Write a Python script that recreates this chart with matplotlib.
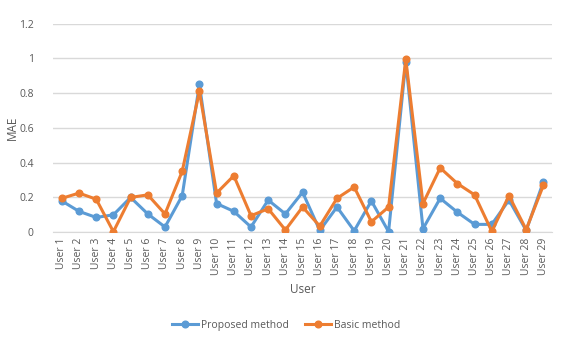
import numpy as np
import matplotlib.pyplot as plt

plt.rcParams['font.family'] = ['Open Sans', 'DejaVu Sans']

users = ['User %d' % i for i in range(1, 30)]
proposed = [0.18, 0.12, 0.085, 0.10, 0.20, 0.105, 0.03, 0.21, 0.85, 0.165,
            0.12, 0.03, 0.185, 0.105, 0.23, 0.01, 0.145, 0.008, 0.18, 0.003,
            0.98, 0.02, 0.195, 0.115, 0.045, 0.045, 0.185, 0.01, 0.29]
basic = [0.195, 0.225, 0.19, 0.003, 0.20, 0.215, 0.105, 0.35, 0.81, 0.225,
         0.325, 0.095, 0.135, 0.013, 0.145, 0.035, 0.195, 0.26, 0.06, 0.145,
         0.995, 0.165, 0.37, 0.28, 0.215, 0.005, 0.21, 0.015, 0.27]

blue = '#5B9BD5'
orange = '#ED7D31'
grey = '#595959'

fig = plt.figure(figsize=(5.72, 3.38), dpi=100, facecolor='white')
ax = fig.add_axes([0.093, 0.313, 0.872, 0.617])

x = np.arange(len(users))
ax.plot(x, proposed, color=blue, linewidth=2.2, marker='o', markersize=4.8,
        label='Proposed method', zorder=3)
ax.plot(x, basic, color=orange, linewidth=2.2, marker='o', markersize=4.8,
        label='Basic method', zorder=4)

ax.set_xlim(-0.5, len(users) - 0.5)
ax.set_ylim(0, 1.2)
ax.set_yticks([0, 0.2, 0.4, 0.6, 0.8, 1.0, 1.2])
ax.set_yticklabels(['0', '0.2', '0.4', '0.6', '0.8', '1', '1.2'])
ax.set_xticks(x)
ax.set_xticklabels(users, rotation=90)
ax.tick_params(axis='both', length=0, labelsize=7.5, colors=grey)
ax.tick_params(axis='y', pad=14)
ax.tick_params(axis='x', pad=4)
ax.grid(axis='y', color='#d9d9d9', linewidth=1.0)
ax.set_axisbelow(True)
for s in ['top', 'right', 'left']:
    ax.spines[s].set_visible(False)
ax.spines['bottom'].set_color('#d9d9d9')

ax.set_xlabel('User', fontsize=8.5, color=grey, labelpad=6)
ax.set_ylabel('MAE', fontsize=8.5, color=grey)
ax.yaxis.set_label_coords(-0.068, 0.5)

fig.legend(loc='center', bbox_to_anchor=(0.5, 0.037), ncol=2, frameon=False,
           fontsize=7.5, labelcolor=grey, handlelength=2.5, columnspacing=1.5,
           handletextpad=0.3)

fig.savefig('out.png', dpi=100, facecolor='white')
